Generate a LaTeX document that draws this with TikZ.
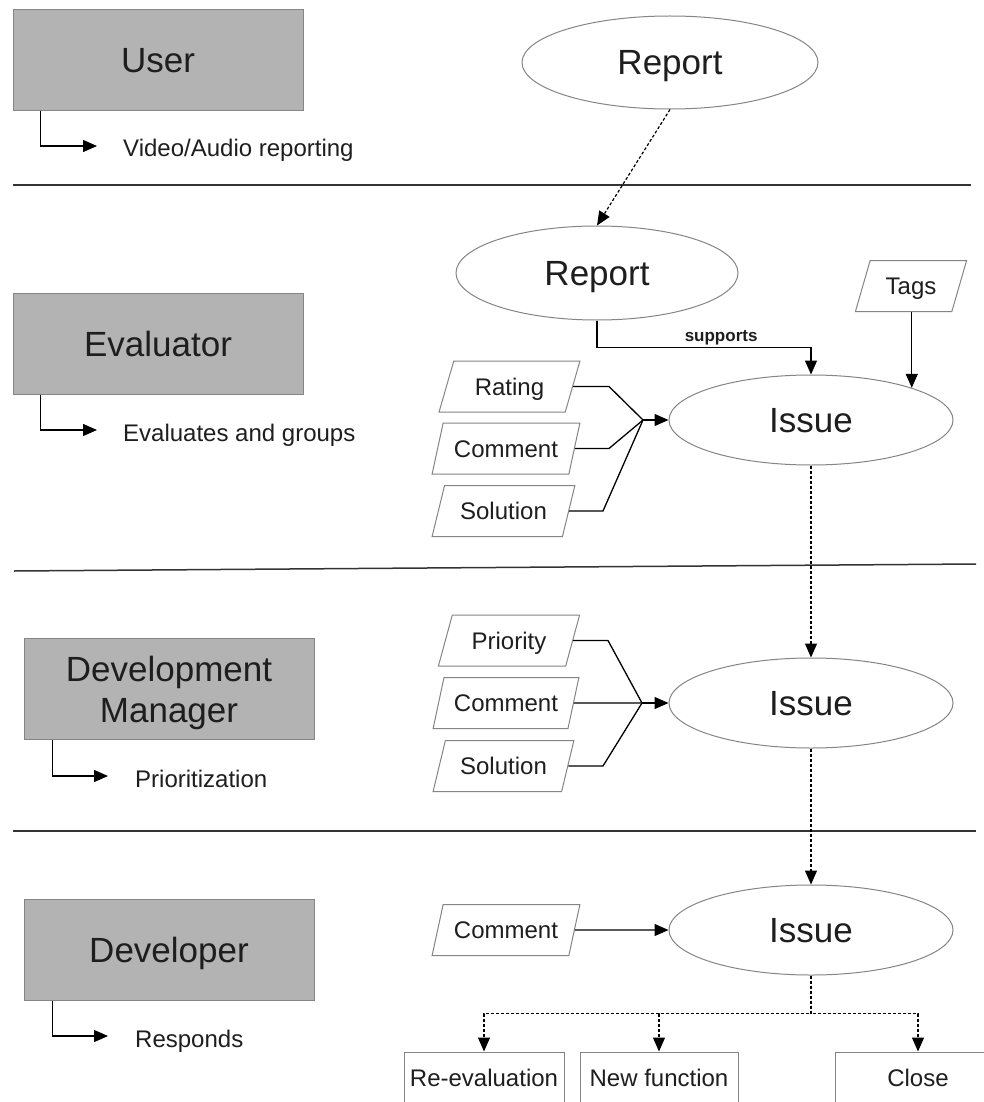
\documentclass[tikz,border=0pt]{standalone}
\usepackage{fontspec}
\setmainfont{Liberation Sans}
\usetikzlibrary{shapes.geometric,arrows.meta}
\definecolor{boxgray}{HTML}{B3B3B3}
\definecolor{edgegray}{HTML}{858585}
\definecolor{ink}{HTML}{1E1E1E}
\begin{document}
\begin{tikzpicture}[x=1pt,y=-1pt,
  bigtext/.style={font=\fontsize{35}{41}\selectfont, text height=25pt, text depth=0pt},
  smalltext/.style={font=\fontsize{24}{28}\selectfont, text height=17.2pt, text depth=0pt},
  role/.style={draw=edgegray, fill=boxgray, line width=1pt, minimum width=290pt,
    minimum height=101pt, inner sep=0pt, text=ink, align=center, bigtext},
  item/.style={ellipse, draw=edgegray, line width=1pt, fill=white, inner sep=0pt,
    text=ink, bigtext},
  datum/.style={trapezium, trapezium left angle=62, trapezium right angle=118,
    trapezium stretches=true, draw=edgegray, line width=1pt, minimum height=51pt,
    inner sep=0pt, text=ink, smalltext},
  outcome/.style={draw=edgegray, line width=1pt, minimum height=52pt, inner sep=0pt,
    text=ink, smalltext},
  act/.style={anchor=base west, text=ink, inner sep=0pt, font=\fontsize{24}{28}\selectfont},
  flow/.style={line width=1.3pt, -{Triangle[length=14pt,width=12pt]}},
  link/.style={line width=1.3pt},
  handoff/.style={line width=1.2pt, dash pattern=on 3pt off 2pt,
    -{Triangle[length=14pt,width=12pt]}},
  lane/.style={line width=1.5pt, draw=black!80},
]
\clip (0,0) rectangle (984,1102);
\fill[white] (0,0) rectangle (984,1102);

% ---------- swim lane separators ----------
\draw[lane] (13,185) -- (971,185);
\draw[lane] (14,571) -- (976,564);
\draw[lane] (13,831) -- (976,831);

% ---------- roles ----------
\node[role] (user) at (158,60.5) {User};
\node[role] (evaluator) at (158,343.5) {Evaluator};
\node[role, text height=66pt] (manager) at (169,689) {Development\\Manager};
\node[role] (developer) at (169,950) {Developer};

% role activities
\coordinate (ua) at (97,146);
\coordinate (ea) at (97,430);
\coordinate (ma) at (108,776);
\coordinate (da) at (108,1036);
\draw[flow] ([xshift=28pt]user.south west) |- (ua);
\draw[flow] ([xshift=28pt]evaluator.south west) |- (ea);
\draw[flow] ([xshift=29pt]manager.south west) |- (ma);
\draw[flow] ([xshift=29pt]developer.south west) |- (da);
\node[act] (uact) at (123,157) {Video/Audio reporting};
\node[act] (eact) at (123,441) {Evaluates and groups};
\node[act] (mact) at (135,787) {Prioritization};
\node[act] (dact) at (135,1047) {Responds};

% ---------- user lane ----------
\node[item, minimum width=296pt, minimum height=93pt] (rep1) at (670,62.5) {Report};

% ---------- evaluator lane ----------
\node[item, minimum width=282pt, minimum height=94pt] (rep2) at (597,273) {Report};
\node[item, minimum width=284pt, minimum height=90pt] (issue1) at (811,420) {Issue};
\node[datum, minimum width=112pt] (tags) at (911,286) {Tags};
\node[datum, minimum width=141pt] (rating) at (509.5,386.5) {Rating};
\node[datum, minimum width=148pt] (comment1) at (506,448.5) {Comment};
\node[datum, minimum width=143pt] (solution1) at (503.5,511) {Solution};

\draw[handoff] (rep1.south) -- (rep2.north);
\draw[flow] (rep2.south) -- ++(0,27) -| node[pos=0.29, above=2pt, inner sep=0pt,
  text=ink, font=\fontsize{17}{20}\selectfont\bfseries] {supports} (issue1.north);
\draw[flow] (tags.south -| issue1.north east) -- (issue1.north east);

\coordinate (f1) at (643,420);
\draw[link] (rating.east) -- (609,386.5) -- (f1);
\draw[link] (comment1.east) -- (609,448.5) -- (f1);
\draw[link] (solution1.east) -- (603,511) -- (f1);
\draw[flow] (f1) -- (issue1.west);

% ---------- development manager lane ----------
\node[item, minimum width=284pt, minimum height=90pt] (issue2) at (811,703) {Issue};
\node[datum, minimum width=142pt] (priority) at (509,640.5) {Priority};
\node[datum, minimum width=146pt] (comment2) at (506,703) {Comment};
\node[datum, minimum width=141pt] (solution2) at (503.5,766) {Solution};

\draw[handoff] (issue1.south) -- (issue2.north);
\coordinate (f2) at (642,703);
\draw[link] (priority.east) -- (608,640.5) -- (f2);
\draw[link] (comment2.east) -- (f2);
\draw[link] (solution2.east) -- (603,766) -- (f2);
\draw[flow] (f2) -- (issue2.west);

% ---------- developer lane ----------
\node[item, minimum width=284pt, minimum height=90pt] (issue3) at (811,930) {Issue};
\node[datum, minimum width=148pt] (comment3) at (506,930) {Comment};

\draw[handoff] (issue2.south) -- (issue3.north);
\draw[flow] (comment3.east) -- (issue3.west);

\node[outcome, minimum width=160pt] (reeval) at (484,1078) {Re-evaluation};
\node[outcome, minimum width=158pt] (newfn) at (659,1078) {New function};
\node[outcome, minimum width=166pt] (close) at (918,1078) {Close};

\draw[handoff] (issue3.south) -- ++(0,38) -| (reeval.north);
\draw[handoff] (issue3.south) -- ++(0,38) -| (newfn.north);
\draw[handoff] (issue3.south) -- ++(0,38) -| (close.north);
\end{tikzpicture}
\end{document}
